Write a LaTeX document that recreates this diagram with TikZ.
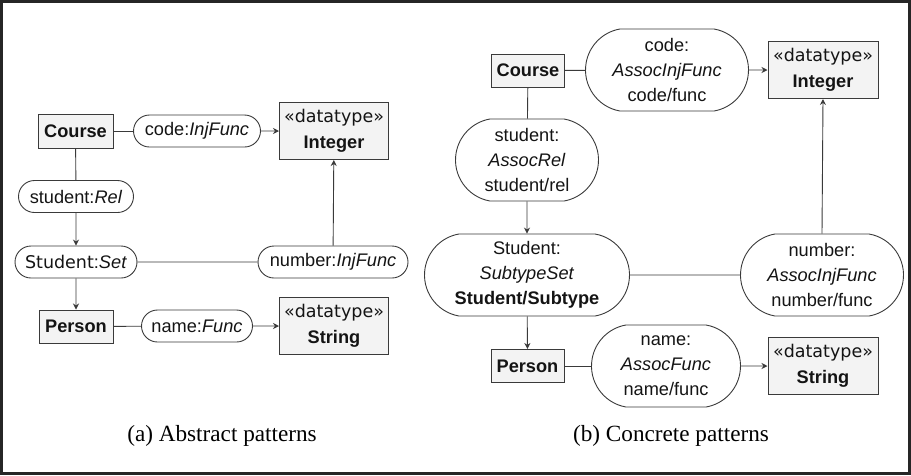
\documentclass[tikz,border=0pt]{standalone}
\usepackage{fontspec}
\setmainfont{Liberation Sans}
\newfontfamily\djv{DejaVu Sans}
\newfontfamily\capfont{Liberation Serif}
\usetikzlibrary{shapes.misc,arrows.meta}
\definecolor{ln}{HTML}{3A3A3A}
\definecolor{boxfill}{HTML}{F3F3F3}
\begin{document}
\begin{tikzpicture}[x=1pt,y=-1pt,
  every node/.style={font=\fontsize{18.2}{25}\selectfont, text=black!92, inner sep=0pt},
  cls/.style={draw=ln, fill=boxfill, line width=1pt, rectangle, minimum width=#1},
  cls/.default=74,
  pill/.style={draw=ln, line width=0.9pt, rounded rectangle, minimum height=32, minimum width=#1},
  bigpill/.style={draw=ln, line width=0.9pt, rounded rectangle, rounded rectangle arc length=160, minimum height=82, minimum width=#1, align=center},
  dt/.style={draw=ln, fill=boxfill, line width=1pt, rectangle, minimum width=#1, minimum height=57, align=center, font=\fontsize{18.2}{26}\selectfont},
  conn/.style={draw=ln, line width=0.9pt},
  arr/.style={conn, -{Stealth[length=6pt,width=6pt,inset=2pt]}},
  captext/.style={font=\capfont\fontsize{23.2}{27}\selectfont, text=black}
]
\useasboundingbox (0,0) rectangle (911,475);
\draw[line width=2.5pt, black!85] (1.5,1.5) rectangle (909.5,473.5);

% ---------- (a) Abstract patterns ----------
\node[cls=75, minimum height=34] (aC) at (75.5,131) {\textbf{Course}};
\node[pill=127] (acode) at (197,131) {code:\textit{InjFunc}};
\node[dt=109] (aInt) at (334,131) {{\djv\fontsize{17.5}{26}\selectfont «datatype»}\\\textbf{Integer}};
\node[pill=115] (arel) at (76,196.5) {student:\textit{Rel}};
\node[pill=122] (aset) at (76,262) {{\djv\fontsize{17.5}{25}\selectfont Student}:\textit{Set}};
\node[pill=150] (anum) at (333,262) {number:\textit{InjFunc}};
\node[cls=74, minimum height=33] (aP) at (76,326.5) {\textbf{Person}};
\node[pill=111] (aname) at (197,326) {name:\textit{Func}};
\node[dt=109] (aStr) at (334,326) {{\djv\fontsize{17.5}{26}\selectfont «datatype»}\\\textbf{String}};
\node[captext] (capa) at (222,436) {(a) Abstract patterns};

\draw[conn] (aC) -- (acode);
\draw[arr] (acode) -- (aInt);
\draw[conn] (aC) -- (arel);
\draw[arr] (arel) -- (aset);
\draw[conn] (aset) -- (anum);
\draw[arr] (anum) -- (aInt);
\draw[arr] (aset) -- (aP);
\draw[conn] (aP) -- (aname);
\draw[arr] (aname) -- (aStr);

% ---------- (b) Concrete patterns ----------
\node[cls=73, minimum height=33] (bC) at (528,70.5) {\textbf{Course}};
\node[bigpill=163] (bcode) at (667,70) {code:\\\textit{AssocInjFunc}\\code/func};
\node[dt=110] (bInt) at (823,70) {{\djv\fontsize{17.5}{26}\selectfont «datatype»}\\\textbf{Integer}};
\node[bigpill=143] (brel) at (527,160) {student:\\\textit{AssocRel}\\student/rel};
\node[bigpill=205] (bset) at (527,275) {Student:\\\textit{SubtypeSet}\\\textbf{Student/Subtype}};
\node[bigpill=163] (bnum) at (822,275) {number:\\\textit{AssocInjFunc}\\number/func};
\node[cls=73, minimum height=33] (bP) at (527.5,366) {\textbf{Person}};
\node[bigpill=149] (bname) at (666,366) {name:\\\textit{AssocFunc}\\name/func};
\node[dt=110] (bStr) at (823,366) {{\djv\fontsize{17.5}{26}\selectfont «datatype»}\\\textbf{String}};
\node[captext] (capb) at (671,436) {(b) Concrete patterns};

\draw[conn] (bC) -- (bcode);
\draw[arr] (bcode) -- (bInt);
\draw[conn] (bC) -- (brel);
\draw[arr] (brel) -- (bset);
\draw[conn] (bset) -- (bnum);
\draw[arr] (bnum.north) -- (bInt.south);
\draw[arr] (bset) -- (bP);
\draw[conn] (bP) -- (bname);
\draw[arr] (bname) -- (bStr);
\end{tikzpicture}
\end{document}
